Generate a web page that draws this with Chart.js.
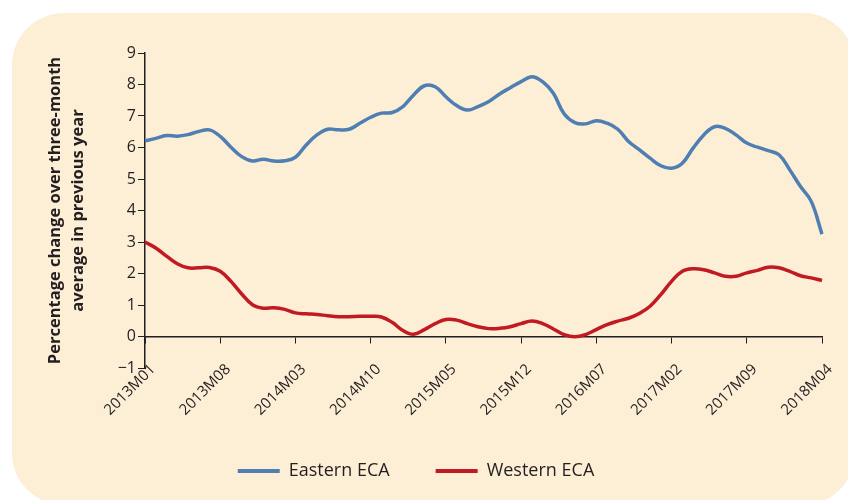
<!DOCTYPE html>
<html>
<head>
<meta charset="utf-8">
<script src="https://cdn.jsdelivr.net/npm/chart.js@4"></script>
<style>
  body { margin: 0; background: #fff; }
  #wrap { position: relative; width: 848px; height: 500px; overflow: hidden; }
  #card {
    position: absolute; left: 12px; top: 13px; width: 843px; height: 492px;
    background: #fdeed6; border-radius: 52px;
  }
  #c { position: absolute; left: 0; top: 0; }
</style>
</head>
<body>
<div id="wrap">
  <div id="card"></div>
  <canvas id="c" width="848" height="500"></canvas>
</div>
<script>
const startYear = 2013;
const monthCount = 64; // 2013M01 .. 2018M04

const eastern = [
  6.21, 6.29, 6.38, 6.36, 6.41, 6.51, 6.56, 6.35, 6.01, 5.71,
  5.57, 5.63, 5.57, 5.58, 5.69, 6.08, 6.40, 6.58, 6.56, 6.58,
  6.77, 6.96, 7.09, 7.11, 7.30, 7.67, 7.96, 7.93, 7.61, 7.33,
  7.19, 7.30, 7.46, 7.70, 7.90, 8.09, 8.25, 8.09, 7.72, 7.07,
  6.79, 6.75, 6.85, 6.77, 6.58, 6.19, 5.93, 5.66, 5.42, 5.34,
  5.50, 5.98, 6.40, 6.66, 6.61, 6.40, 6.14, 6.01, 5.90, 5.77,
  5.29, 4.76, 4.29, 3.25
];

const western = [
  3.00, 2.81, 2.55, 2.31, 2.18, 2.18, 2.19, 2.07, 1.75, 1.35,
  1.01, 0.90, 0.91, 0.86, 0.75, 0.72, 0.70, 0.66, 0.63, 0.63,
  0.64, 0.64, 0.62, 0.45, 0.19, 0.07, 0.22, 0.41, 0.54, 0.52,
  0.41, 0.31, 0.25, 0.26, 0.31, 0.41, 0.49, 0.41, 0.24, 0.06,
  -0.01, 0.06, 0.22, 0.38, 0.49, 0.58, 0.73, 0.96, 1.33, 1.75,
  2.07, 2.15, 2.12, 2.02, 1.91, 1.91, 2.02, 2.10, 2.20, 2.18,
  2.07, 1.93, 1.86, 1.78
];

const months = [];
for (let i = 0; i < monthCount; i++) {
  const y = startYear + Math.floor(i / 12);
  const m = (i % 12) + 1;
  months.push(y + "M" + String(m).padStart(2, "0"));
}

const tickEvery = 7;
const ink = "#231f20";
const family = "'Open Sans', sans-serif";

new Chart(document.getElementById("c"), {
  type: "line",
  data: {
    labels: months,
    datasets: [
      {
        label: "Eastern ECA",
        data: eastern,
        borderColor: "#4f7fb2",
        backgroundColor: "#4f7fb2",
        borderWidth: 3.5,
        pointRadius: 0,
        tension: 0.4,
      },
      {
        label: "Western ECA",
        data: western,
        borderColor: "#c11a22",
        backgroundColor: "#c11a22",
        borderWidth: 3.5,
        pointRadius: 0,
        tension: 0.4,
      },
    ],
  },
  options: {
    responsive: false,
    animation: false,
    layout: { padding: { left: 10, right: 26, top: 53, bottom: 10 } },
    plugins: {
      tooltip: { enabled: false },
      legend: {
        position: "bottom",
        title: { display: true, text: " ", font: { size: 12 }, padding: { top: 0, bottom: 33.6 } },
        labels: {
          boxWidth: 42,
          boxHeight: 4,
          padding: 46,
          color: ink,
          font: { family: family, size: 18 },
          generateLabels: (chart) =>
            Chart.defaults.plugins.legend.labels
              .generateLabels(chart)
              .map((l) => ({ ...l, lineWidth: 0 })),
        },
      },
    },
    scales: {
      x: {
        position: { y: 0 },
        afterFit: (s) => { s.paddingLeft = 0; s.paddingRight = 0; },
        grid: { drawOnChartArea: false, drawTicks: true, tickLength: 6, color: ink },
        border: { display: true, color: ink, width: 1.5 },
        ticks: {
          autoSkip: false,
          minRotation: 45,
          maxRotation: 45,
          padding: 18,
          labelOffset: 8,
          color: ink,
          font: { family: family, size: 15 },
          callback: function (val, i) {
            return i % tickEvery === 0 ? this.getLabelForValue(val) : null;
          },
        },
      },
      y: {
        min: -1,
        max: 9,
        afterFit: (s) => { s.width = 135; },
        grid: { drawOnChartArea: false, drawTicks: true, tickLength: 7, color: ink },
        border: { display: true, color: ink, width: 1.5 },
        ticks: {
          stepSize: 1,
          padding: 2,
          color: ink,
          font: { family: family, size: 16 },
          callback: (v) => (v < 0 ? "\u2212" + Math.abs(v) : String(v)),
        },
        title: {
          display: true,
          text: ["Percentage change over three-month", "average in previous year"],
          color: ink,
          font: { family: family, size: 16.5, weight: "bold", lineHeight: 1.4 },
          padding: { top: 34, bottom: 0 },
        },
      },
    },
  },
});
</script>
</body>
</html>
